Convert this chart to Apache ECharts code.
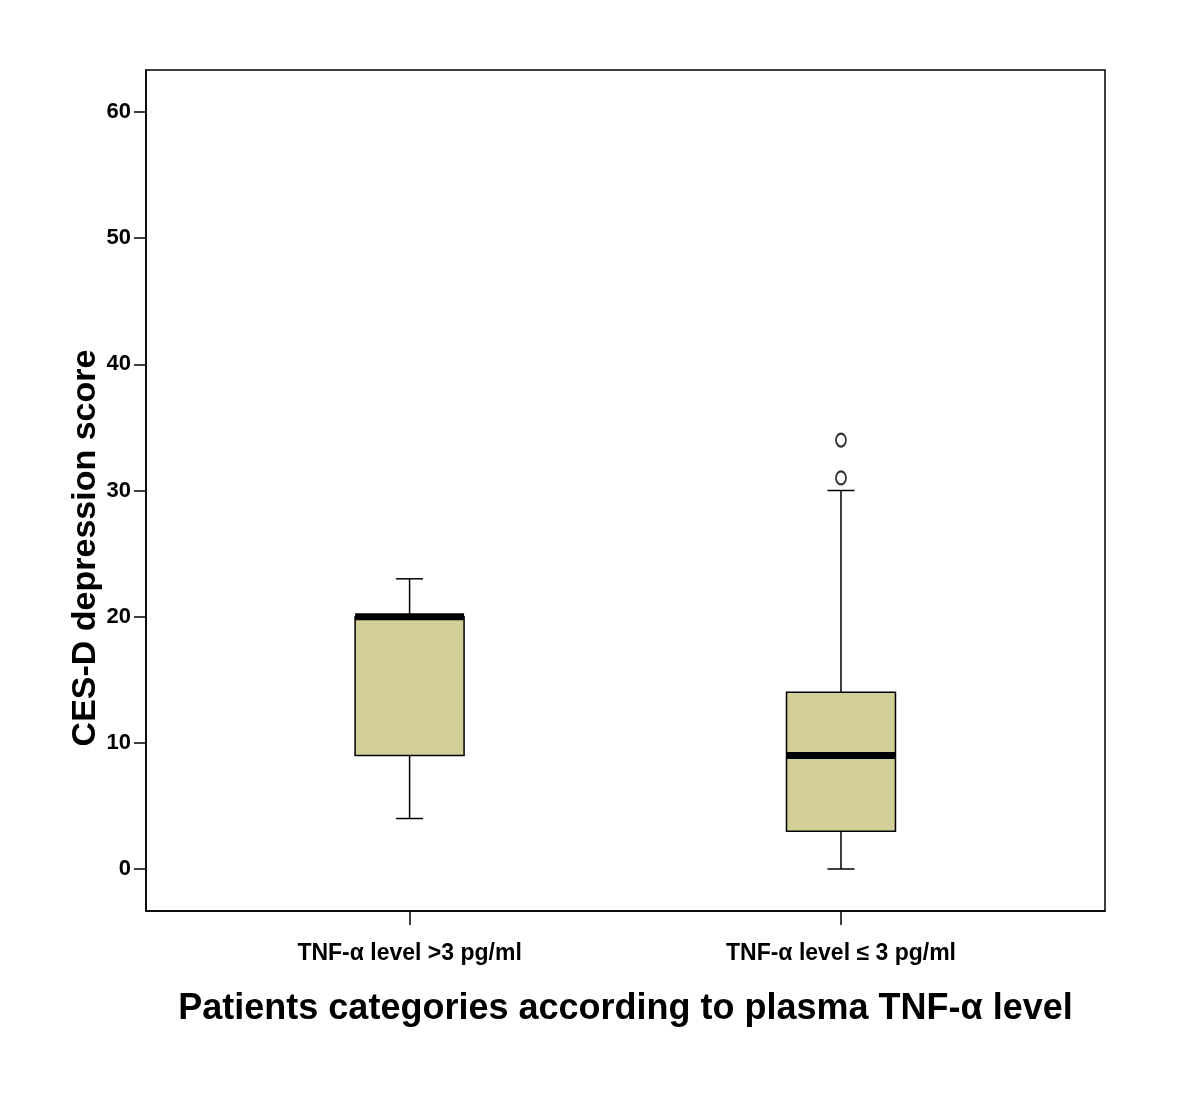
<!DOCTYPE html>
<html><head><meta charset="utf-8">
<script src="https://cdn.jsdelivr.net/npm/echarts@6/dist/echarts.min.js"></script>
<style>html,body{margin:0;padding:0;background:#fff}#c{width:1200px;height:1102px}</style>
</head><body><div id="c"></div>
<script>
const categories = ['TNF-α level >3 pg/ml', 'TNF-α level ≤ 3 pg/ml'];
// [min, Q1, median, Q3, max]
const boxValues = [
  [4, 9, 20, 20, 23],
  [0, 3, 9, 14, 30]
];
const outliers = [[2, 31], [2, 34]];
const yTicks = [0, 10, 20, 30, 40, 50, 60];
const xTicks = [1, 2];

const font = '"Liberation Sans", Arial, sans-serif';
const boxData = boxValues.map((v, i) => [i + 1].concat(v));

const chart = echarts.init(document.getElementById('c'), null, {renderer: 'canvas'});
chart.setOption({
  animation: false,
  backgroundColor: '#fff',
  grid: {left: 146, right: 95, top: 70, bottom: 191, show: true, borderColor: '#000', borderWidth: 1.5, backgroundColor: 'transparent'},
  xAxis: {
    type: 'value', min: 0.389, max: 2.612,
    splitLine: {show: false},
    axisLine: {show: true, onZero: false, lineStyle: {color: '#000', width: 1.5}},
    axisTick: {show: true, customValues: xTicks, length: 14, lineStyle: {color: '#000', width: 1.5}},
    axisLabel: {customValues: xTicks, margin: 31, color: '#000', fontFamily: font, fontWeight: 'bold', fontSize: 23,
      formatter: v => categories[Math.round(v) - 1] || ''},
    name: 'Patients categories according to plasma TNF-α level',
    nameLocation: 'middle', nameGap: 80,
    nameTextStyle: {color: '#000', fontFamily: font, fontWeight: 'bold', fontSize: 36}
  },
  yAxis: {
    type: 'value', min: -3.33, max: 63.33,
    splitLine: {show: false},
    axisLine: {show: true, onZero: false, lineStyle: {color: '#000', width: 1.5}},
    axisTick: {show: true, customValues: yTicks, length: 12, lineStyle: {color: '#000', width: 1.5}},
    axisLabel: {customValues: yTicks, margin: 15, color: '#000', fontFamily: font, fontWeight: 'bold', fontSize: 22}
  },
  graphic: [{
    type: 'text', x: 86, y: 548, rotation: Math.PI / 2, originX: 0, originY: 0,
    style: {text: 'CES-D depression score', fill: '#000', font: 'bold 34px ' + font, align: 'center', verticalAlign: 'middle'}
  }],
  series: [{
    type: 'custom',
    data: boxData,
    encode: {x: 0, y: [1, 2, 3, 4, 5]},
    renderItem: function (params, api) {
      const x = api.value(0);
      const half = api.size([0.2526, 0])[0] / 2;
      const capHalf = api.size([0.0626, 0])[0] / 2;
      const pMin = api.coord([x, api.value(1)]);
      const pQ1 = api.coord([x, api.value(2)]);
      const pMed = api.coord([x, api.value(3)]);
      const pQ3 = api.coord([x, api.value(4)]);
      const pMax = api.coord([x, api.value(5)]);
      const cx = pMin[0];
      const line = {stroke: '#000', lineWidth: 1.5};
      return {type: 'group', children: [
        {type: 'line', shape: {x1: cx, y1: pMax[1], x2: cx, y2: pQ3[1]}, style: line},
        {type: 'line', shape: {x1: cx, y1: pQ1[1], x2: cx, y2: pMin[1]}, style: line},
        {type: 'line', shape: {x1: cx - capHalf, y1: pMax[1], x2: cx + capHalf, y2: pMax[1]}, style: line},
        {type: 'line', shape: {x1: cx - capHalf, y1: pMin[1], x2: cx + capHalf, y2: pMin[1]}, style: line},
        {type: 'rect', shape: {x: cx - half, y: pQ3[1], width: half * 2, height: pQ1[1] - pQ3[1]},
          style: {fill: '#d3cf98', stroke: '#000', lineWidth: 1.5}},
        {type: 'line', shape: {x1: cx - half, y1: pMed[1], x2: cx + half, y2: pMed[1]}, style: {stroke: '#000', lineWidth: 7}}
      ]};
    }
  }, {
    type: 'scatter',
    data: outliers,
    symbol: 'emptyCircle',
    symbolSize: [10, 13],
    itemStyle: {color: '#000', borderColor: '#000', borderWidth: 1.5}
  }]
});
</script></body></html>
